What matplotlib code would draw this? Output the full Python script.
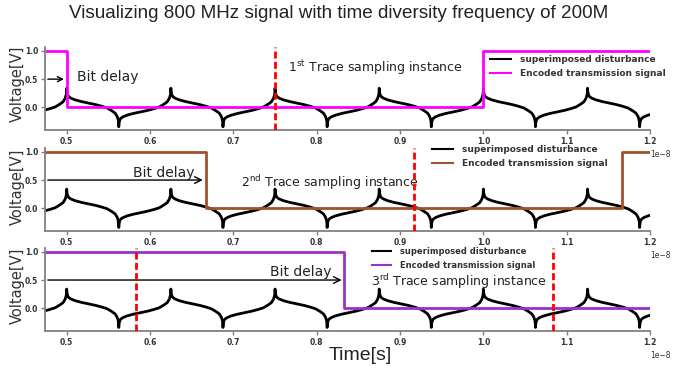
import numpy as np
import matplotlib
matplotlib.use("Agg")
import matplotlib.pyplot as plt

# disturbance: one period (in fractions of a period) starting at an upward cusp
period = 0.125e-8          # 800 MHz
first_peak = 0.5e-8
phase = [0.0, 0.003, 0.01, 0.02, 0.04, 0.08, 0.14, 0.21, 0.28, 0.34, 0.39,
         0.435, 0.465, 0.485, 0.495, 0.499,
         0.5, 0.503, 0.51, 0.52, 0.54, 0.58, 0.64, 0.71, 0.78, 0.84, 0.89,
         0.935, 0.965, 0.985, 0.995, 0.999]
shape = [0.34, 0.27, 0.22, 0.19, 0.165, 0.135, 0.105, 0.077, 0.05, 0.02, -0.01,
         -0.06, -0.10, -0.16, -0.22, -0.28,
         -0.34, -0.27, -0.22, -0.19, -0.165, -0.135, -0.105, -0.077, -0.05, -0.02, 0.01,
         0.06, 0.10, 0.16, 0.22, 0.28]

# encoded transmission signals (edges in units of 1e-8 s, levels)
enc1_t = [0.474, 0.5, 1.0, 1.2]
enc1_v = [1, 0, 1, 1]
enc2_t = [0.474, 0.6667, 1.1667, 1.2]
enc2_v = [1, 0, 1, 1]
enc3_t = [0.474, 0.8333, 1.2]
enc3_v = [1, 0, 0]

# trace sampling instances
samp1 = [0.75]
samp2 = [0.9167]
samp3 = [0.5833, 1.0833]

# bit delay arrows end at the bit edges
delay_end = [0.5, 0.6667, 0.8333]

colors = ["#ff00ff", "sienna", "darkorchid"]
traces = ["1$^{\\mathregular{st}}$ Trace sampling instance",
          "2$^{\\mathregular{nd}}$ Trace sampling instance",
          "3$^{\\mathregular{rd}}$ Trace sampling instance"]

t_dist = []
y_dist = []
for k in range(-1, 6):
    for p, v in zip(phase, shape):
        t_dist.append(first_peak + (k + p) * period)
        y_dist.append(v)
t_dist = np.array(t_dist)
y_dist = np.array(y_dist)

fig = plt.figure(figsize=(6.77, 3.68), dpi=100)
boxes = [[0.0665, 0.6467, 0.8937, 0.2255],
         [0.0665, 0.3731, 0.8937, 0.2245],
         [0.0665, 0.1014, 0.8937, 0.2245]]
axes = [fig.add_axes(b) for b in boxes]

encs = [(enc1_t, enc1_v), (enc2_t, enc2_v), (enc3_t, enc3_v)]
samps = [samp1, samp2, samp3]
# legend placement (figure fraction) and font size per panel
leg_pos = [(490 / 677, 1 - 55 / 368), (432 / 677, 1 - 145 / 368), (372 / 677, 1 - 247 / 368)]
leg_size = [6.5, 6.5, 6.0]
# "Bit delay" text (x in 1e-8 s, y) and trace text positions
bit_txt = [(0.512, 0.54), (0.58, 0.63), (0.744, 0.64)]
trace_txt = [(0.766, 0.71), (0.709, 0.456), (0.865, 0.476)]
ylab_y = [0.56, 0.53, 0.54]

for i, ax in enumerate(axes):
    ax.plot(t_dist, y_dist, color="black", lw=2, label="superimposed disturbance")
    et, ev = encs[i]
    ax.step(np.array(et) * 1e-8, ev, where="post", color=colors[i], lw=2,
            label="Encoded transmission signal")
    for s in samps[i]:
        ax.axvline(s * 1e-8, color="red", ls="--", lw=2, dashes=(2.5, 1.2), zorder=5)

    ax.annotate("", xy=(delay_end[i] * 1e-8, 0.5), xytext=(0.474e-8, 0.5),
                arrowprops=dict(arrowstyle="->", color="black", lw=1,
                                mutation_scale=12 if i else 9))
    ax.text(bit_txt[i][0] * 1e-8, bit_txt[i][1], "Bit delay", fontsize=10,
            va="center", ha="left", color="#222222")
    ax.text(trace_txt[i][0] * 1e-8, trace_txt[i][1], traces[i], fontsize=9,
            va="center", ha="left", color="#222222")

    ax.set_xlim(0.474e-8, 1.2e-8)
    ax.set_ylim(-0.397, 1.066)
    ax.set_yticks([0.0, 0.5, 1.0])
    ax.set_xticks(np.arange(0.5, 1.21, 0.1) * 1e-8)
    for side in ["top", "right"]:
        ax.spines[side].set_visible(False)
    for side in ["left", "bottom"]:
        ax.spines[side].set_color("#808080")
        ax.spines[side].set_linewidth(1.3)
    ax.tick_params(colors="#808080", length=3, width=1, labelsize=5.5,
                   labelcolor="#333333", pad=2)
    for lab in ax.get_xticklabels() + ax.get_yticklabels():
        lab.set_fontweight("bold")
    off = ax.xaxis.get_offset_text()
    off.set_fontsize(5.5)
    off.set_horizontalalignment("left")
    off.set_color("#333333")

    ax.set_ylabel("Voltage[V]", fontsize=10.5, color="#333333")
    ax.yaxis.set_label_coords(-0.034, ylab_y[i])

    leg = ax.legend(loc="upper left", bbox_to_anchor=leg_pos[i],
                    bbox_transform=fig.transFigure, frameon=False,
                    borderpad=0, borderaxespad=0, handlelength=2.3,
                    handletextpad=1.0, labelspacing=0.6,
                    prop={"size": leg_size[i], "weight": "bold"})
    for line in leg.get_lines():
        line.set_linewidth(1.5)
    for txt in leg.get_texts():
        txt.set_color("#333333")

fig.text(0.5, 1 - 14 / 368, "Visualizing 800 MHz signal with time diversity frequency of 200M",
         ha="center", va="center", fontsize=13.6, family="Liberation Sans", color="#222222")
fig.text(360 / 677, 1 - 355 / 368, "Time[s]", ha="center", va="center",
         fontsize=14, family="Liberation Sans", color="#222222")

fig.savefig("out.png", dpi=100)
